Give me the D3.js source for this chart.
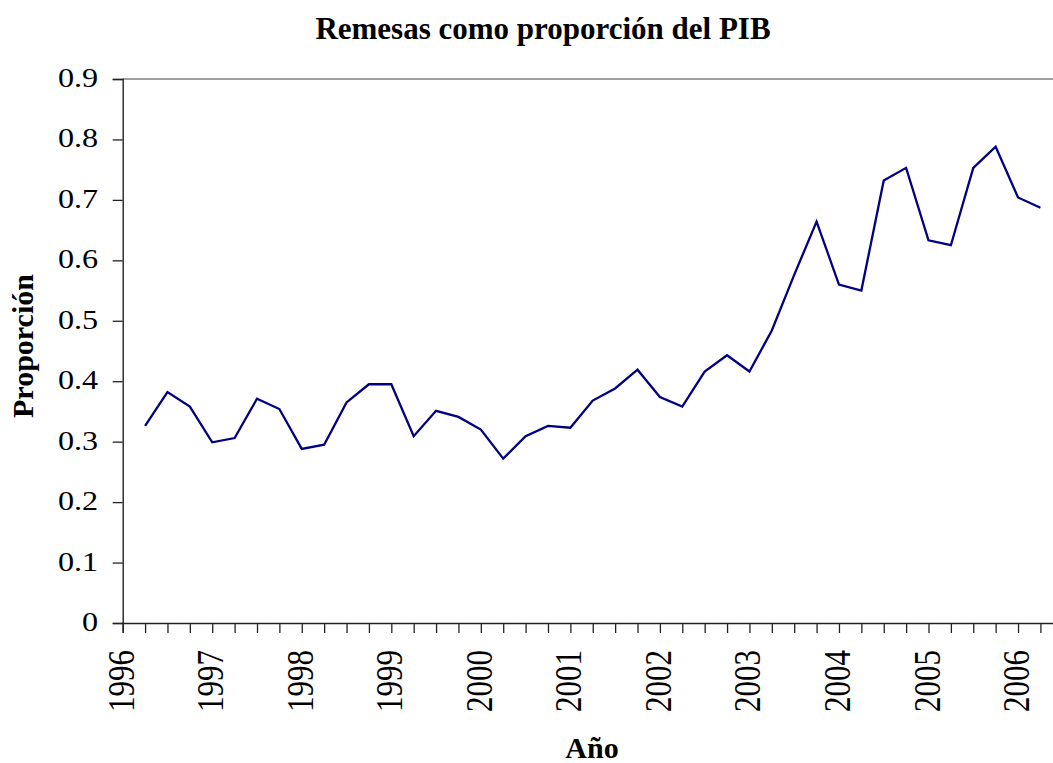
<!DOCTYPE html>
<html>

<head>
  <meta charset="UTF-8">
  <title>Remesas como proporción del PIB</title>
  <style>
    body { margin: 0; background: #fff; }
  </style>
</head>

<body>
  <div class="graph"></div>
  <script src="https://d3js.org/d3.v7.min.js"></script>
  <script>

    /// data (quarterly, "year-quarter")
    var periods = [
      "1996-2", "1996-3", "1996-4",
      "1997-1", "1997-2", "1997-3", "1997-4",
      "1998-1", "1998-2", "1998-3", "1998-4",
      "1999-1", "1999-2", "1999-3", "1999-4",
      "2000-1", "2000-2", "2000-3", "2000-4",
      "2001-1", "2001-2", "2001-3", "2001-4",
      "2002-1", "2002-2", "2002-3", "2002-4",
      "2003-1", "2003-2", "2003-3", "2003-4",
      "2004-1", "2004-2", "2004-3", "2004-4",
      "2005-1", "2005-2", "2005-3", "2005-4",
      "2006-1", "2006-2"
    ];
    var proporcion = [
      0.326, 0.382, 0.358,
      0.299, 0.306, 0.371, 0.354,
      0.288, 0.295, 0.365, 0.395,
      0.395, 0.309, 0.351, 0.341,
      0.320, 0.272, 0.309, 0.326,
      0.323, 0.368, 0.388, 0.419,
      0.374, 0.358, 0.416, 0.443,
      0.416, 0.484, 0.576, 0.664,
      0.560, 0.550, 0.732, 0.753,
      0.633, 0.625, 0.753, 0.788,
      0.704, 0.687
    ];
    var yearLabels = [1996, 1997, 1998, 1999, 2000, 2001, 2002, 2003, 2004, 2005, 2006];
    var yTicks = [0, 0.1, 0.2, 0.3, 0.4, 0.5, 0.6, 0.7, 0.8, 0.9];

    var title = "Remesas como proporción del PIB";
    var xTitle = "Año";
    var yTitle = "Proporción";

    var serif = "'Liberation Serif', 'Times New Roman', serif";

    /// layout
    var width = 1053, height = 763;
    var plot = {left: 122.7, top: 79, right: 1062.8, bottom: 623};

    var data = periods.map(function(p, i) {
      var parts = p.split("-");
      return {t: +parts[0] + (parts[1] - 1) / 4, v: proporcion[i]};
    });

    var x = d3.scaleLinear().domain([1996, 2006.5]).range([plot.left, plot.right]);
    var y = d3.scaleLinear().domain([0, 0.9]).range([plot.bottom, plot.top]);

    var svg = d3.select(".graph").append("svg")
      .attr("width", width)
      .attr("height", height)
      .style("font-family", serif);

    // plot area top border
    svg.append("line")
      .attr("x1", plot.left).attr("x2", plot.right)
      .attr("y1", plot.top).attr("y2", plot.top)
      .attr("stroke", "#808080")
      .attr("stroke-width", 1.6);

    // y axis
    var yAxis = svg.append("g")
      .attr("transform", "translate(" + plot.left + ",0)")
      .call(d3.axisLeft(y).tickValues(yTicks).tickSize(10).tickPadding(0)
        .tickFormat(function(d) { return d === 0 ? "0" : d3.format(".1f")(d); }));
    yAxis.attr("font-family", serif);
    yAxis.select(".domain").attr("stroke", "#222").attr("stroke-width", 1.4);
    yAxis.selectAll(".tick line").attr("stroke", "#222").attr("stroke-width", 1.3);
    yAxis.selectAll(".tick text")
      .attr("x", null).attr("dy", null)
      .attr("font-family", serif)
      .attr("font-size", 28)
      .attr("text-anchor", "end")
      .attr("transform", "translate(-24.5,7.5) scale(1.15,1)");

    // x axis: quarter ticks, year labels
    var quarterTicks = d3.range(0, 43).map(function(i) { return 1996 + i * 0.25; });
    var xAxis = svg.append("g")
      .attr("transform", "translate(0," + plot.bottom + ")")
      .call(d3.axisBottom(x).tickValues(quarterTicks).tickSize(10).tickFormat(""));
    xAxis.select(".domain").attr("stroke", "#222").attr("stroke-width", 1.4);
    xAxis.selectAll(".tick line").attr("stroke", "#222").attr("stroke-width", 1.3);

    svg.append("g").selectAll("text")
      .data(yearLabels)
      .enter().append("text")
        .attr("transform", function(d) {
          return "translate(" + (x(d) + 11) + ",650) rotate(-90) scale(1,1.2)";
        })
        .attr("text-anchor", "end")
        .attr("font-family", serif)
        .attr("font-size", 31)
        .text(function(d) { return d; });

    // line
    var line = d3.line()
      .x(function(d) { return x(d.t); })
      .y(function(d) { return y(d.v); });

    svg.append("path")
      .datum(data)
      .attr("fill", "none")
      .attr("stroke", "#000080")
      .attr("stroke-width", 2.3)
      .attr("stroke-linejoin", "miter")
      .attr("d", line);

    // titles
    svg.append("text")
      .attr("x", 543).attr("y", 39)
      .attr("text-anchor", "middle")
      .attr("font-family", serif)
      .attr("font-weight", "bold")
      .attr("font-size", 31)
      .text(title);

    svg.append("text")
      .attr("x", 592).attr("y", 758)
      .attr("text-anchor", "middle")
      .attr("font-family", serif)
      .attr("font-weight", "bold")
      .attr("font-size", 30)
      .text(xTitle);

    svg.append("text")
      .attr("transform", "translate(33,346) rotate(-90)")
      .attr("text-anchor", "middle")
      .attr("font-family", serif)
      .attr("font-weight", "bold")
      .attr("font-size", 30)
      .text(yTitle);

  </script>
</body>
</html>
